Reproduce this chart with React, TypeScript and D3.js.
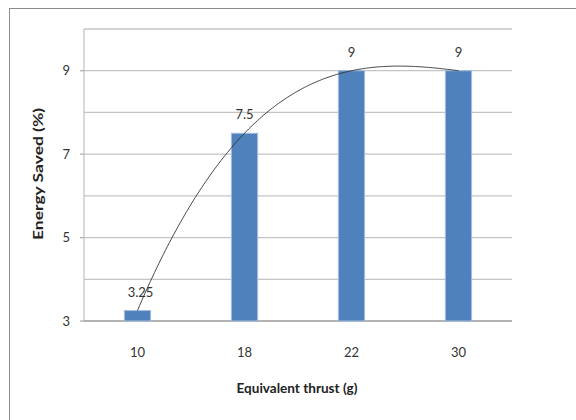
import React from "react";
import * as d3 from "d3";

// Equivalent thrust categories (g) and energy saved (%)
const thrustLabels = ["10", "18", "22", "30"];
const energySaved = [3.25, 7.5, 9, 9];
const valueLabels = ["3.25", "7.5", "9", "9"];
const yTickLabels = [3, 5, 7, 9];
const yGridValues = [3, 4, 5, 6, 7, 8, 9, 10];

const W = 576;
const H = 420;
const plot = { left: 84, right: 512, top: 29, bottom: 321 };
const FONT = "Lato, 'Open Sans', sans-serif";

// Cubic polynomial through all points (Newton divided differences), in category-index space
function cubicThrough(xs: number[], ys: number[]) {
  const n = xs.length;
  const coef = ys.slice();
  for (let j = 1; j < n; j++) {
    for (let i = n - 1; i >= j; i--) {
      coef[i] = (coef[i] - coef[i - 1]) / (xs[i] - xs[i - j]);
    }
  }
  return (t: number) => {
    let v = coef[n - 1];
    for (let i = n - 2; i >= 0; i--) v = v * (t - xs[i]) + coef[i];
    return v;
  };
}

export default function App() {
  const x = d3
    .scaleBand<string>()
    .domain(thrustLabels)
    .range([plot.left, plot.right])
    .padding(0);
  const y = d3.scaleLinear().domain([3, 10]).range([plot.bottom, plot.top]);

  const barW = x.bandwidth() * 0.245;
  const cx = (c: string) => (x(c) as number) + x.bandwidth() / 2;

  const idx = thrustLabels.map((_, i) => i);
  const trend = cubicThrough(idx, energySaved);
  const tToPx = d3
    .scaleLinear()
    .domain([0, thrustLabels.length - 1])
    .range([cx(thrustLabels[0]), cx(thrustLabels[thrustLabels.length - 1])]);
  const samples = d3.range(0, thrustLabels.length - 1 + 1e-9, 0.02);
  const trendPath = d3
    .line<number>()
    .x((t) => tToPx(t))
    .y((t) => y(trend(t)))
    .curve(d3.curveLinear)(samples);

  return (
    <svg
      width={W}
      height={H}
      style={{ position: "absolute", left: 0, top: 0, background: "#fff" }}
    >
      {/* chart frame */}
      <rect x={9.5} y={8.5} width={600} height={440} fill="#fff" stroke="#8c8c8c" strokeWidth={1} />

      {/* gridlines */}
      {yGridValues.map((v) => (
        <line
          key={v}
          x1={plot.left}
          x2={plot.right}
          y1={y(v)}
          y2={y(v)}
          stroke="#c4c4c4"
          strokeWidth={1.3}
        />
      ))}

      {/* y axis line and ticks */}
      <line x1={plot.left} x2={plot.left} y1={plot.top} y2={plot.bottom} stroke="#c4c4c4" strokeWidth={1.3} />
      <line x1={plot.left} x2={plot.right} y1={plot.bottom} y2={plot.bottom} stroke="#a8a8a8" strokeWidth={1.3} />
      {yTickLabels.map((v) => (
        <g key={v}>
          <line x1={plot.left - 4} x2={plot.left} y1={y(v)} y2={y(v)} stroke="#a8a8a8" strokeWidth={1.2} />
          <text
            x={70}
            y={y(v)}
            dy="0.35em"
            textAnchor="end"
            fontFamily={FONT}
            fontSize={13}
            fill="#333"
          >
            {v}
          </text>
        </g>
      ))}

      {/* bars */}
      {thrustLabels.map((c, i) => (
        <rect
          key={c}
          x={cx(c) - barW / 2}
          y={y(energySaved[i])}
          width={barW}
          height={y(3) - y(energySaved[i])}
          fill="#4f81bd"
          stroke="#a3bddf"
          strokeWidth={1}
        />
      ))}

      {/* value labels */}
      {thrustLabels.map((c, i) => (
        <text
          key={c}
          x={cx(c) + (i === 0 ? 3 : 0)}
          y={y(energySaved[i]) - 14}
          textAnchor="middle"
          fontFamily={FONT}
          fontSize={13}
          fill="#333"
        >
          {valueLabels[i]}
        </text>
      ))}

      {/* polynomial trend curve */}
      <path d={trendPath ?? ""} fill="none" stroke="#333" strokeWidth={0.9} />

      {/* x tick labels */}
      {thrustLabels.map((c) => (
        <text
          key={c}
          x={cx(c)}
          y={352}
          dy="0.35em"
          textAnchor="middle"
          fontFamily={FONT}
          fontSize={13}
          fill="#333"
        >
          {c}
        </text>
      ))}

      {/* axis titles */}
      <text
        x={297}
        y={388}
        dy="0.35em"
        textAnchor="middle"
        fontFamily={FONT}
        fontSize={13}
        fontWeight="bold"
        fill="#222"
        textLength={121}
        lengthAdjust="spacingAndGlyphs"
      >
        Equivalent thrust (g)
      </text>
      <text
        transform={`translate(38,${(107 + 241) / 2}) rotate(-90)`}
        dy="0.35em"
        textAnchor="middle"
        fontFamily={FONT}
        fontSize={13}
        fontWeight="bold"
        fill="#222"
        textLength={132}
        lengthAdjust="spacingAndGlyphs"
      >
        Energy Saved (%)
      </text>
    </svg>
  );
}
